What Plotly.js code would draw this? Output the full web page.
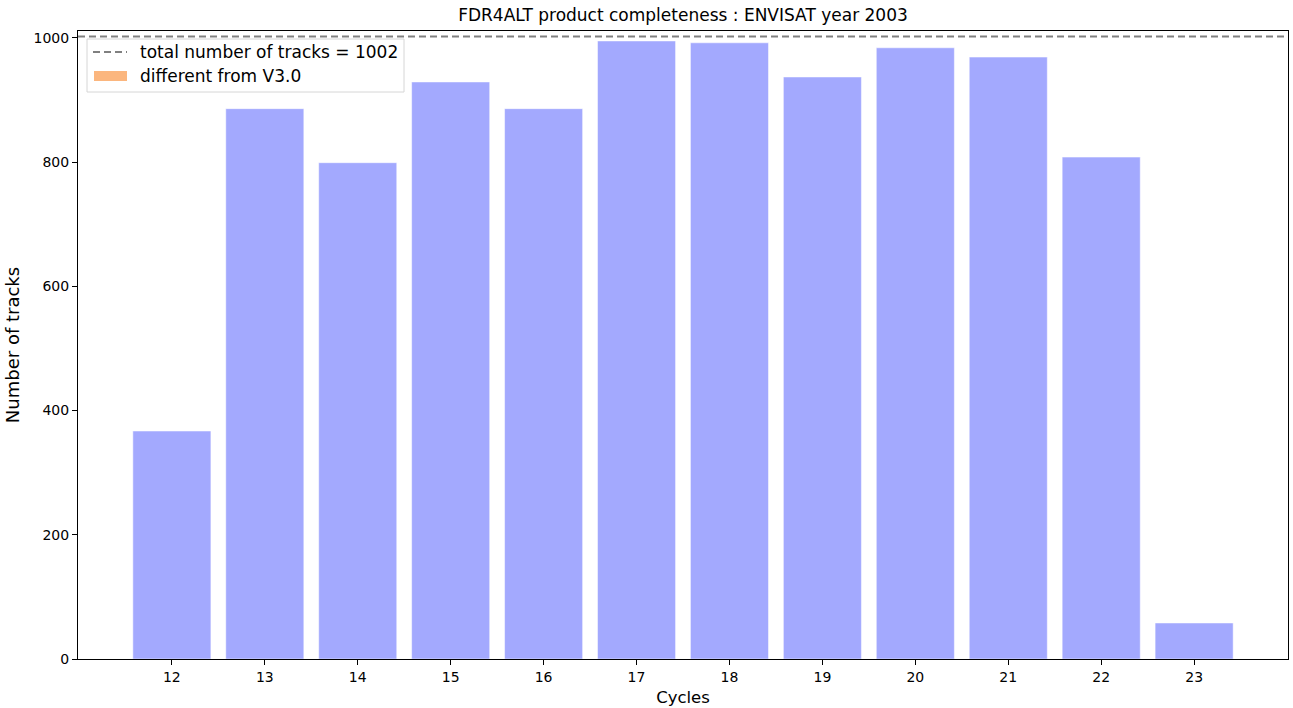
<!DOCTYPE html>
<html>
<head>
<meta charset="utf-8">
<script src="https://cdn.plot.ly/plotly-3.0.1.min.js"></script>
<style>
  html, body { margin: 0; padding: 0; background: #fff; }
  #chart { width: 1293px; height: 708px; }
</style>
</head>
<body>
<div id="chart"></div>
<script>
// Tracks available per ENVISAT cycle in 2003
const cycles = [12, 13, 14, 15, 16, 17, 18, 19, 20, 21, 22, 23];
const trackCounts = [367, 886, 799, 929, 886, 995, 992, 937, 984, 969, 808, 58];
const totalTracks = 1002;
const legendLabels = ['total number of tracks = ' + totalTracks, 'different from V3.0'];

const W = 1293, H = 708;
const M = { l: 78, r: 5, t: 31, b: 49 };
const plotW = W - M.l - M.r, plotH = H - M.t - M.b;
// pixel -> paper coordinate helpers for the legend box
const px = x => (x - M.l) / plotW;
const py = y => (H - M.b - y) / plotH;

const font = 'DejaVu Sans, sans-serif';
const dashStyle = { color: '#808080', width: 2, dash: '7px,4px' };

const data = [{
  type: 'bar',
  x: cycles,
  y: trackCounts,
  width: 0.84,
  marker: { color: '#a3a9fe', line: { color: '#ffffff', width: 0.5 } },
  hoverinfo: 'x+y',
  showlegend: false
}];

const shapes = [
  // total number of tracks
  { type: 'line', xref: 'paper', yref: 'y', x0: 0, x1: 1, y0: totalTracks, y1: totalTracks, line: dashStyle },
  // legend frame
  { type: 'rect', xref: 'paper', yref: 'paper', x0: px(87), x1: px(404), y0: py(39), y1: py(92),
    fillcolor: 'rgba(255,255,255,0.8)', line: { color: '#d6d6d6', width: 1 } },
  { type: 'line', xref: 'paper', yref: 'paper', x0: px(93), x1: px(127), y0: py(52), y1: py(52), line: dashStyle },
  { type: 'rect', xref: 'paper', yref: 'paper', x0: px(94), x1: px(127), y0: py(71), y1: py(81),
    fillcolor: '#fbb67e', line: { width: 0 } }
];

const annotations = legendLabels.map((t, i) => ({
  xref: 'paper', yref: 'paper', x: px(138), y: py(52 + i * 24),
  xanchor: 'left', yanchor: 'middle', showarrow: false, text: t,
  font: { family: font, size: 17, color: '#000' }
}));

const layout = {
  width: W, height: H,
  margin: M,
  paper_bgcolor: '#fff', plot_bgcolor: '#fff',
  title: { text: 'FDR4ALT product completeness : ENVISAT year 2003', x: (M.l + plotW / 2) / W, xanchor: 'center',
           y: 1 - 15 / H, yanchor: 'middle', font: { family: font, size: 17, color: '#000' } },
  xaxis: {
    range: [10.99, 24.01], tickvals: cycles, ticktext: cycles.map(String),
    showgrid: false, zeroline: false, showline: true, mirror: true, linecolor: '#000', linewidth: 1,
    ticks: 'outside', ticklen: 5, tickcolor: '#000', tickfont: { family: font, size: 14, color: '#000' },
    title: { text: 'Cycles', font: { family: font, size: 16.5, color: '#000' }, standoff: 7 }
  },
  yaxis: {
    range: [0, 1011], tickvals: [0, 200, 400, 600, 800, 1000],
    showgrid: false, zeroline: false, showline: true, mirror: true, linecolor: '#000', linewidth: 1,
    ticks: 'outside', ticklen: 5, tickcolor: '#000', tickfont: { family: font, size: 14, color: '#000' },
    title: { text: 'Number of tracks', font: { family: font, size: 18, color: '#000' }, standoff: 9 }
  },
  shapes: shapes,
  annotations: annotations,
  showlegend: false
};

Plotly.newPlot('chart', data, layout, { displayModeBar: false, staticPlot: true });
</script>
</body>
</html>
